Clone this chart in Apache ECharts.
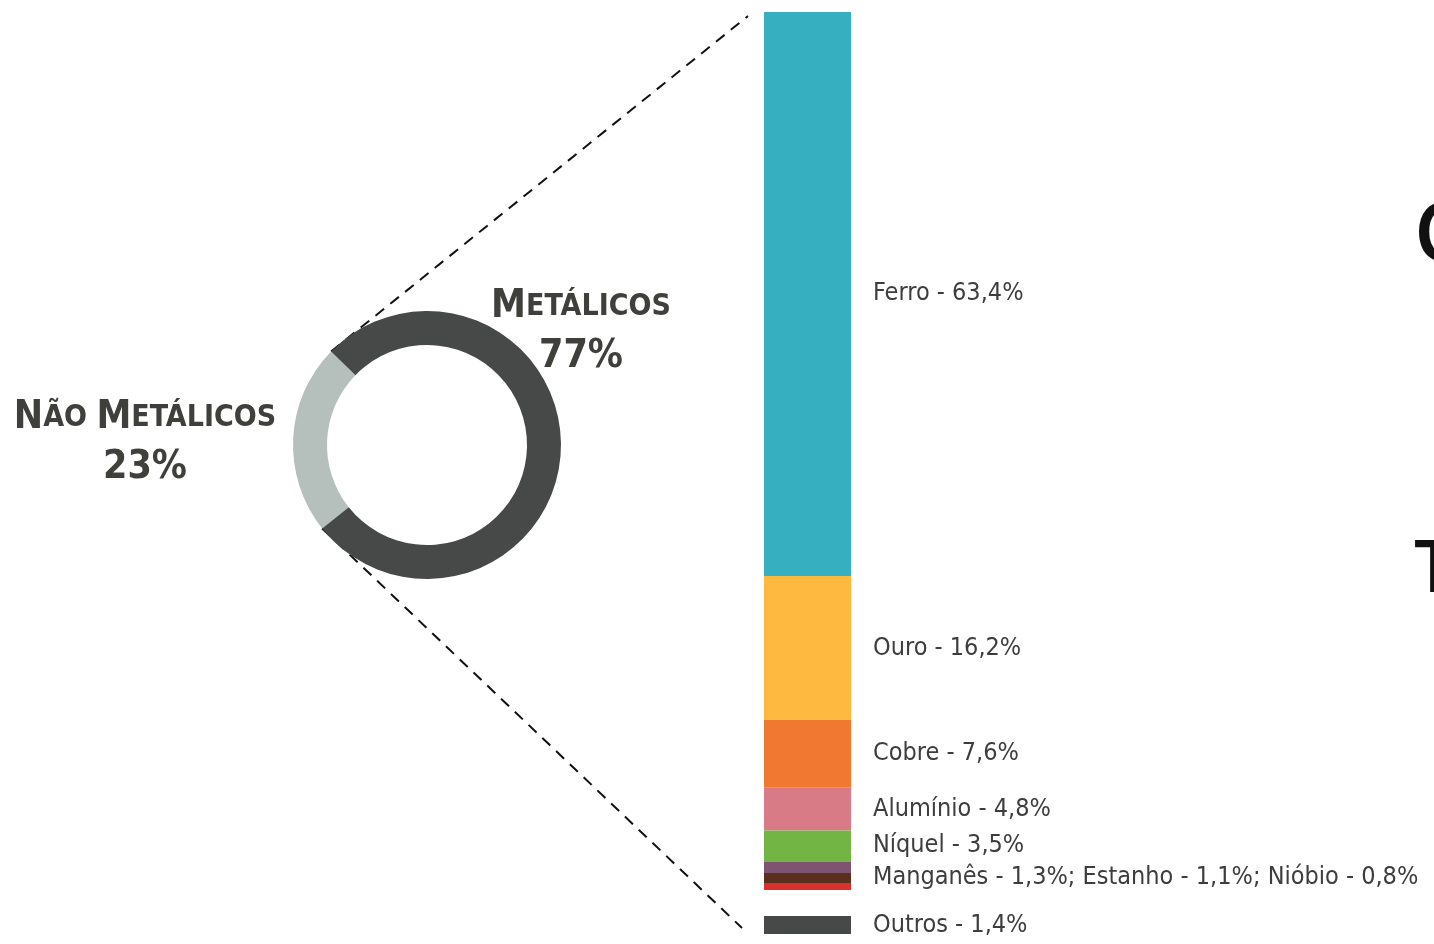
<!DOCTYPE html>
<html><head><meta charset="utf-8">
<script src="https://cdn.jsdelivr.net/npm/echarts@6/dist/echarts.min.js"></script>
<style>html,body{margin:0;padding:0;background:#fff;overflow:hidden}#c{width:1434px;height:944px}</style>
</head><body><div id="c"></div>
<script>
// ---- data ----
const groupNames = ['Não Metálicos', 'Metálicos'];
const groupValues = [23, 77];
const metalNames = ['Ferro', 'Ouro', 'Cobre', 'Alumínio', 'Níquel', 'Manganês', 'Estanho', 'Nióbio'];
const metalValues = [63.4, 16.2, 7.6, 4.8, 3.5, 1.3, 1.1, 0.8];
const otherName = 'Outros';
const otherValue = 1.4;
const sideLetters = ['C', 'T'];

// ---- style ----
const groupColors = ['#b5c0bc', '#474948'];
const metalColors = ['#36b0c0', '#fdb940', '#f07830', '#d97b86', '#72b545', '#7e5470', '#5b2f1e', '#d93030'];
const otherColor = '#474948';
const LABEL_FONT = '"Liberation Sans Narrow","DejaVu Sans Condensed","Roboto",sans-serif';
const TXT = '#3d3d3d';
const LFS = 25;

const fmt = v => v.toFixed(1).replace('.', ',') + '%';

const CX = 427, CY = 445, R_IN = 100, R_OUT = 134;
const START = 218.5;
const BAR_LEFT = 764, BAR_W = 87, BAR_TOP = 12, BAR_BOTTOM = 890;
const OUT_TOP = 916, OUT_H = 18;

const mainTotal = metalValues.reduce((a, b) => a + b, 0);

const chart = echarts.init(document.getElementById('c'), null, { renderer: 'canvas' });

const combinedIdx = [5, 6, 7];
const barSeries = metalNames.map((n, i) => {
  let label = { show: false };
  if (i <= 4) {
    label = { show: true, position: 'right', distance: 22, formatter: n + ' - ' + fmt(metalValues[i]),
      color: TXT, fontFamily: LABEL_FONT, fontSize: LFS };
  } else if (i === 6) {
    label = { show: true, position: 'right', distance: 22,
      formatter: combinedIdx.map(k => metalNames[k] + ' - ' + fmt(metalValues[k])).join('; '),
      color: TXT, fontFamily: LABEL_FONT, fontSize: LFS };
  }
  return {
    type: 'bar', name: n, stack: 'metals', xAxisIndex: 0, yAxisIndex: 0,
    data: [metalValues[i]], barWidth: '100%', itemStyle: { color: metalColors[i] },
    label, silent: true
  };
});

const option = {
  animation: false,
  backgroundColor: '#fff',
  grid: [
    { left: BAR_LEFT, width: BAR_W, top: BAR_TOP, height: BAR_BOTTOM - BAR_TOP },
    { left: BAR_LEFT, width: BAR_W, top: OUT_TOP, height: OUT_H }
  ],
  xAxis: [
    { type: 'category', gridIndex: 0, data: ['m'], show: false },
    { type: 'category', gridIndex: 1, data: ['o'], show: false }
  ],
  yAxis: [
    { type: 'value', gridIndex: 0, inverse: true, min: 0, max: mainTotal, show: false },
    { type: 'value', gridIndex: 1, inverse: true, min: 0, max: otherValue, show: false }
  ],
  series: [
    {
      type: 'pie', center: [CX, CY], radius: [R_IN, R_OUT], startAngle: START, clockwise: true,
      label: { show: false }, labelLine: { show: false }, silent: true,
      data: groupNames.map((n, i) => ({ name: n, value: groupValues[i], itemStyle: { color: groupColors[i] } }))
    },
    ...barSeries,
    {
      type: 'bar', name: otherName, xAxisIndex: 1, yAxisIndex: 1, data: [otherValue], barWidth: '100%',
      itemStyle: { color: otherColor }, silent: true,
      label: { show: true, position: 'right', distance: 22, formatter: otherName + ' - ' + fmt(otherValue),
        color: TXT, fontFamily: LABEL_FONT, fontSize: LFS }
    }
  ]
};
chart.setOption(option);

// boundary angles of the grey (non-metallic) slice
const angA = START * Math.PI / 180;
const angB = (START - groupValues[0] / (groupValues[0] + groupValues[1]) * 360) * Math.PI / 180;
const pTop = [CX + R_OUT * Math.cos(angB), CY - R_OUT * Math.sin(angB)];
const pBot = [CX + R_OUT * Math.cos(angA), CY - R_OUT * Math.sin(angA)];

const bigF = 39, smallF = 30;
const capsRich = {
  b: { fontFamily: LABEL_FONT, fontWeight: 'bold', fontSize: bigF, fill: '#3f403c' },
  s: { fontFamily: LABEL_FONT, fontWeight: 'bold', fontSize: smallF, fill: '#3f403c' }
};
function smallCaps(str) {
  return str.split(' ').map(w => '{b|' + w[0].toUpperCase() + '}{s|' + w.slice(1).toUpperCase() + '}').join('{s| }');
}
const pct = v => v + '%';

chart.setOption({
  graphic: [
    { type: 'line', shape: { x1: pTop[0], y1: pTop[1], x2: BAR_LEFT - 16, y2: BAR_TOP + 4 },
      style: { stroke: '#111', lineWidth: 2, lineDash: [11, 8] }, silent: true },
    { type: 'line', shape: { x1: pBot[0], y1: pBot[1], x2: BAR_LEFT - 22, y2: OUT_TOP + OUT_H - 6 },
      style: { stroke: '#111', lineWidth: 2, lineDash: [11, 8] }, silent: true },
    { type: 'text', x: 581, y: 307, style: { text: smallCaps(groupNames[1]), rich: capsRich, align: 'center', verticalAlign: 'middle' } },
    { type: 'text', x: 581, y: 357, style: { text: pct(groupValues[1]), fontFamily: LABEL_FONT, fontWeight: 'bold', fontSize: bigF, fill: '#3f403c', align: 'center', verticalAlign: 'middle' } },
    { type: 'text', x: 145, y: 418, style: { text: smallCaps(groupNames[0]), rich: capsRich, align: 'center', verticalAlign: 'middle' } },
    { type: 'text', x: 145, y: 468, style: { text: pct(groupValues[0]), fontFamily: LABEL_FONT, fontWeight: 'bold', fontSize: bigF, fill: '#3f403c', align: 'center', verticalAlign: 'middle' } },
    { type: 'text', x: 1414, y: 237, style: { text: sideLetters[0], fontFamily: '"Open Sans",sans-serif', fontWeight: 600, fontSize: 84, fill: '#111', verticalAlign: 'middle' } },
    { type: 'text', x: 1414, y: 571, style: { text: sideLetters[1], fontFamily: '"Open Sans",sans-serif', fontWeight: 600, fontSize: 72, fill: '#111', verticalAlign: 'middle' } }
  ]
});
</script>
</body></html>
